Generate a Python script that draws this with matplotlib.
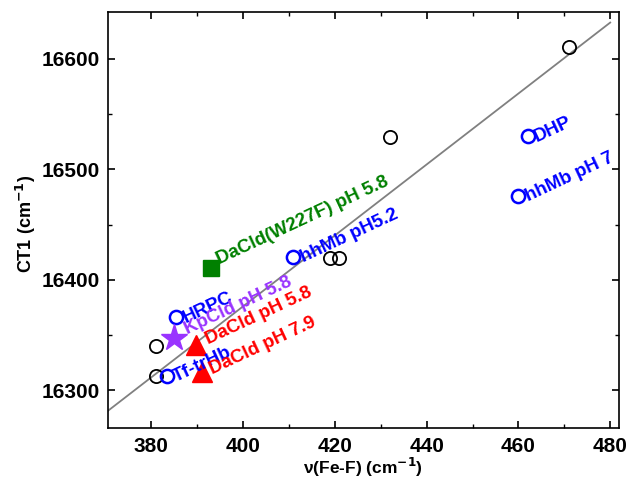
import matplotlib
matplotlib.use("Agg")
import matplotlib.pyplot as plt
from matplotlib.ticker import MultipleLocator

plt.rcParams['font.family'] = ['Liberation Sans', 'DejaVu Sans']
plt.rcParams['font.weight'] = 'bold'
plt.rcParams['mathtext.default'] = 'bf'

# Reference (black open circles)
ref_x = [381.0, 381.0, 419.0, 421.0, 432.0, 471.0]
ref_y = [16340, 16313, 16420, 16420, 16529, 16611]

# Blue labelled circles
blue_x = [385.4, 383.4, 411.0, 462.0, 460.0]
blue_y = [16366, 16313, 16421, 16530, 16476]
blue_labels = ["HRPC", "Tf-trHb", "hhMb pH5.2", "DHP", "hhMb pH 7"]

# Other species
green_x, green_y = [393.0], [16411]
green_label = "DaCld(W227F) pH 5.8"
star_x, star_y = [385.0], [16347]
star_label = "KpCld pH 5.8"
tri_x = [389.8, 391.0]
tri_y = [16341, 16316]
tri_labels = ["DaCld pH 5.8", "DaCld pH 7.9"]

# Fit line endpoints
fit_x = [370.5, 480.0]
fit_y = [16281, 16633]

fig = plt.figure(figsize=(6.29, 4.80), dpi=100)
ax = fig.add_axes([0.171, 0.109, 0.813, 0.867])

ax.plot(fit_x, fit_y, color='#808080', lw=1.3, zorder=1)
ax.plot(ref_x, ref_y, 'o', mfc='none', mec='black', ms=9.5, mew=1.3, zorder=3)
ax.plot(blue_x, blue_y, 'o', mfc='none', mec='#0000FF', ms=9.5, mew=1.8, zorder=3)
ax.plot(green_x, green_y, 's', color='#008000', ms=12, zorder=3)
ax.plot(star_x, star_y, '*', color='#9933FF', ms=20, zorder=3)
ax.plot(tri_x, tri_y, '^', color='#FF0000', ms=15, zorder=3)

rot = 25
fs = 13.5
kw = dict(fontsize=fs, fontweight='bold', rotation=rot, rotation_mode='anchor',
          ha='left', va='baseline', textcoords='offset points')
for x, y, t in zip(blue_x, blue_y, blue_labels):
    ax.annotate(t, (x, y), xytext=(6.8, -4.3), color='#0000FF', **kw)
ax.annotate(green_label, (green_x[0], green_y[0]), xytext=(6.3, 2.5), color='#008000', **kw)
ax.annotate(star_label, (star_x[0], star_y[0]), xytext=(9.5, 3.0), color='#9933FF', **kw)
ax.annotate(tri_labels[0], (tri_x[0], tri_y[0]), xytext=(9.0, 0.5), color='#FF0000', **kw)
ax.annotate(tri_labels[1], (tri_x[1], tri_y[1]), xytext=(7.5, -1.0), color='#FF0000', **kw)

ax.set_xlim(370.5, 481.9)
ax.set_ylim(16266, 16643)
ax.xaxis.set_major_locator(MultipleLocator(20))
ax.xaxis.set_minor_locator(MultipleLocator(10))
ax.yaxis.set_major_locator(MultipleLocator(100))
ax.yaxis.set_minor_locator(MultipleLocator(50))

ax.tick_params(which='both', direction='in', top=True, bottom=True, left=True, right=True)
ax.tick_params(which='major', length=5.2, width=1.2, labelsize=15)
ax.tick_params(which='minor', length=3, width=1.0)
ax.tick_params(axis='y', which='major', pad=5.5)
ax.tick_params(axis='x', which='major', pad=6.5)

for lbl in ax.get_xticklabels() + ax.get_yticklabels():
    lbl.set_fontweight('bold')
for sp in ax.spines.values():
    sp.set_linewidth(1.2)

ax.set_xlabel(r'ν(Fe-F) (cm$^{-1}$)', fontsize=12.5, fontweight='bold', labelpad=0)
ax.set_ylabel(r'CT1 (cm$^{-1}$)', fontsize=13, fontweight='bold')
ax.yaxis.set_label_coords(-0.137, 0.49)

fig.savefig('out.png', dpi=100)
